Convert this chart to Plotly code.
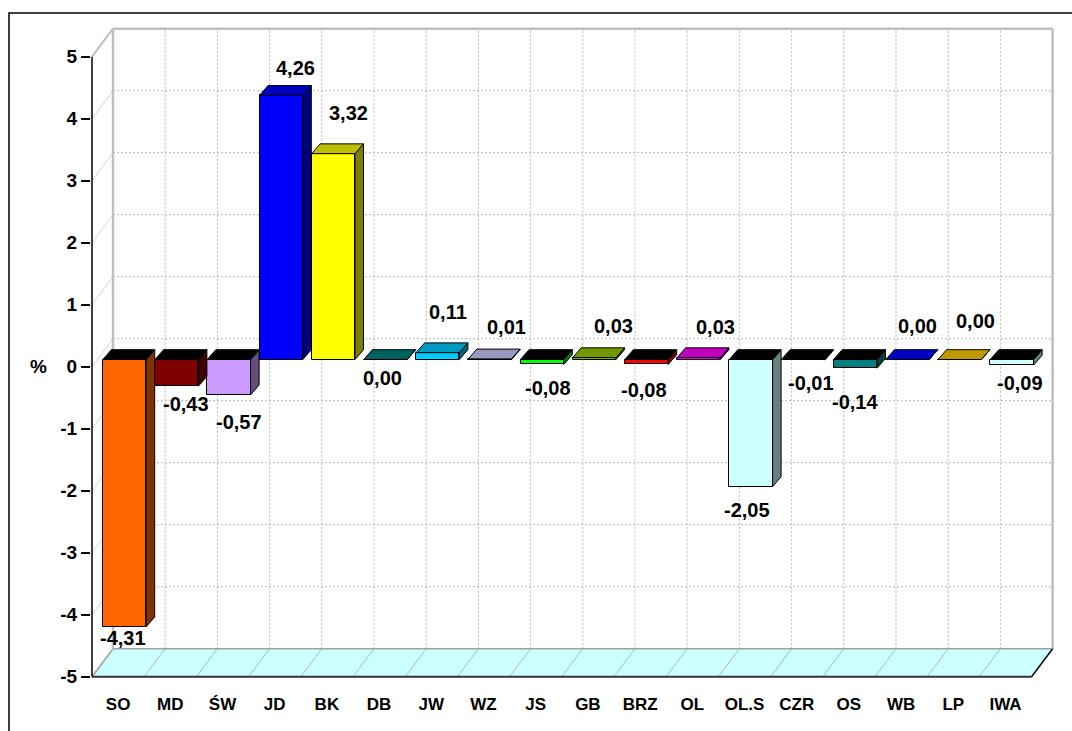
import plotly.graph_objects as go

# ---- data -------------------------------------------------------------
categories = ["SO", "MD", "ŚW", "JD", "BK", "DB", "JW", "WZ", "JS",
              "GB", "BRZ", "OL", "OL.S", "CZR", "OS", "WB", "LP", "IWA"]
values = [-4.31, -0.43, -0.57, 4.26, 3.32, 0.00, 0.11, 0.01, -0.08,
          0.03, -0.08, 0.03, -2.05, -0.01, -0.14, 0.00, 0.00, -0.09]
y_tick_values = [5, 4, 3, 2, 1, 0, -1, -2, -3, -4, -5]
y_tick_labels = ["5", "4", "3", "2", "1", "0", "-1", "-2", "-3", "-4", "-5"]

# ---- styling ----------------------------------------------------------
front_colors = ["#FF6600", "#800000", "#CC99FF", "#0000FF", "#FFFF00",
                "#008080", "#00CCFF", "#CCCCFF", "#00FF00", "#99CC00",
                "#FF0000", "#FF00FF", "#CCFFFF", "#993366", "#008080",
                "#0000FF", "#FFCC00", "#CCFFFF"]
# pixel nudges (right, down) of each value label from the bar end
label_nudges = [(-1.5, 11.3), (9.3, 17.8), (10, 27.2), (14.4, -27.4),
                (15.2, -40.7), (-3, 18.5), (9.8, -40.2), (16.8, -31.4),
                (5.9, 23.5), (18.7, -31.6), (-2.5, 25.5), (16.3, -30.9),
                (-4.3, 23.4), (7.7, 23.2), (-0.4, 33.5), (10, -33.7),
                (16, -38.7), (8, 18.2)]

FONT = "Liberation Sans, Arial, sans-serif"
W, H = 1072, 731
M_L, M_R, M_T, M_B = 91, 17, 27, 52

KX = 52.2          # px per category
KY = 62.0          # px per percent
AX_PX = 92         # front y axis, px
ZERO_PY = 366.7    # value 0 on the front plane, px

# depth of the 3-D box (walls) and of the columns, in data units
WDX, WDY = 21 / KX, 28 / KY
BAR_BASE = 7.2 / KY
BAR_CX = 32.55 / KX - 0.5
BAR_W = 43.3 / KX
BDX, BDY = 8.5 / KX, 9.8 / KY

x_range = [-0.5 - (AX_PX - M_L) / KX, -0.5 + (W - M_R - AX_PX) / KX]
y_range = [(ZERO_PY - (H - M_B)) / KY, (ZERO_PY - M_T) / KY]

n = len(categories)
x_lo, x_hi = -0.5, n - 0.5
y_lo, y_hi = min(y_tick_values), max(y_tick_values)


def shade(hex_color, f):
    h = hex_color.lstrip("#")
    r, g, b = (int(h[i:i + 2], 16) for i in (0, 2, 4))
    return "#{:02X}{:02X}{:02X}".format(int(r * f), int(g * f), int(b * f))


def seg(x0, y0, x1, y1, color, width, dash="solid", layer="below"):
    return dict(type="line", xref="x", yref="y", x0=x0, y0=y0, x1=x1, y1=y1,
                line=dict(color=color, width=width, dash=dash), layer=layer)


shapes = []
# floor
shapes.append(dict(
    type="path", xref="x", yref="y", layer="below",
    path=(f"M {x_lo},{y_lo} L {x_hi},{y_lo} L {x_hi + WDX},{y_lo + WDY} "
          f"L {x_lo + WDX},{y_lo + WDY} Z"),
    fillcolor="#CCFFFF", line=dict(width=0)))
for k in range(1, n):
    shapes.append(seg(k - 0.5, y_lo, k - 0.5 + WDX, y_lo + WDY, "#A8BEBE", 1))
# back wall grid
for v in y_tick_values:
    if y_lo < v < y_hi:
        shapes.append(seg(x_lo + WDX, v + WDY, x_hi + WDX, v + WDY,
                          "#B4B4B4", 1, "2px,2px"))
        shapes.append(seg(x_lo, v, x_lo + WDX, v + WDY, "#D4D4D4", 1))
for k in range(1, n):
    shapes.append(seg(k - 0.5 + WDX, y_lo + WDY, k - 0.5 + WDX, y_hi + WDY,
                      "#B4B4B4", 1, "2px,2px"))
# box edges
shapes.append(seg(x_lo + WDX, y_lo + WDY, x_hi + WDX, y_lo + WDY, "#A0A0A0", 1.5))
shapes.append(seg(x_lo, y_lo, x_lo + WDX, y_lo + WDY, "#A0A0A0", 1.5))
shapes.append(seg(x_lo + WDX, y_lo + WDY, x_lo + WDX, y_hi + WDY, "#C0C0C0", 2.5))
shapes.append(seg(x_hi + WDX, y_lo + WDY, x_hi + WDX, y_hi + WDY, "#C0C0C0", 2.5))
shapes.append(seg(x_lo + WDX, y_hi + WDY, x_hi + WDX, y_hi + WDY, "#C0C0C0", 2.5))
shapes.append(seg(x_lo, y_hi, x_lo + WDX, y_hi + WDY, "#C0C0C0", 2))
shapes.append(seg(x_lo, y_lo, x_hi, y_lo, "#333333", 2))
shapes.append(seg(x_hi, y_lo, x_hi + WDX, y_lo + WDY, "#000000", 1.5))
# front value axis
shapes.append(seg(x_lo, y_lo, x_lo, y_hi, "#000000", 1.5))

# outer frame (left and top edges)
pw = W - M_L - M_R
ph = H - M_T - M_B


def px_x(px):
    return (px - M_L) / pw


def px_y(py):
    return (H - M_B - py) / ph


shapes.append(dict(type="path", xref="paper", yref="paper", layer="above",
                   path=f"M {px_x(9)},{px_y(760)} L {px_x(9)},{px_y(13)} "
                        f"L {px_x(1090)},{px_y(13)}",
                   line=dict(color="#000000", width=1.5)))

fig = go.Figure()

# front faces of the columns
fig.add_trace(go.Bar(
    x=[i + BAR_CX for i in range(n)], y=values, base=BAR_BASE, width=BAR_W,
    marker=dict(color=front_colors, line=dict(color="#000000", width=1)),
    hoverinfo="skip", showlegend=False))

# side and top faces
for i, v in enumerate(values):
    xl = i + BAR_CX - BAR_W / 2
    xr = i + BAR_CX + BAR_W / 2
    b = BAR_BASE
    t = BAR_BASE + v
    fig.add_trace(go.Scatter(
        x=[xr, xr, xr + BDX, xr + BDX, xr],
        y=[b, t, t + BDY, b + BDY, b],
        mode="lines", fill="toself", fillcolor=shade(front_colors[i], 0.5),
        line=dict(color="#000000", width=1), hoverinfo="skip", showlegend=False))
    ytop = t if v >= 0 else b
    top_col = shade(front_colors[i], 0.75) if v >= 0 else "#000000"
    fig.add_trace(go.Scatter(
        x=[xl, xr, xr + BDX, xl + BDX, xl],
        y=[ytop, ytop, ytop + BDY, ytop + BDY, ytop],
        mode="lines", fill="toself", fillcolor=top_col,
        line=dict(color="#000000", width=1), hoverinfo="skip", showlegend=False))

annotations = []
for i, v in enumerate(values):
    dx, dy = label_nudges[i]
    annotations.append(dict(
        x=i + BAR_CX, y=v + BAR_BASE, xref="x", yref="y",
        text=f"{v:.2f}".replace(".", ","), showarrow=False,
        xanchor="center", yanchor="middle", xshift=dx, yshift=-dy,
        font=dict(family=FONT, size=20, color="#000000", weight="bold")))
annotations.append(dict(
    x=px_x(38), y=0, xref="paper", yref="y", text="%", showarrow=False,
    xanchor="center", yanchor="middle",
    font=dict(family=FONT, size=19, color="#000000", weight="bold")))

fig.update_layout(
    width=W, height=H, autosize=False,
    margin=dict(l=M_L, r=M_R, t=M_T, b=M_B, pad=0),
    paper_bgcolor="#FFFFFF", plot_bgcolor="#FFFFFF",
    shapes=shapes, annotations=annotations, bargap=0,
    xaxis=dict(range=x_range, tickmode="array", tickvals=list(range(n)),
               ticktext=categories, showgrid=False, zeroline=False,
               showline=False, ticks="", ticklabelstandoff=13,
               tickfont=dict(family=FONT, size=17, color="#000000", weight="bold"),
               automargin=False, fixedrange=True),
    yaxis=dict(range=y_range, tickmode="array", tickvals=y_tick_values,
               ticktext=y_tick_labels, showgrid=False, zeroline=False,
               showline=False, ticks="outside", ticklen=9, tickwidth=1.5,
               tickcolor="#000000",
               tickfont=dict(family=FONT, size=19, color="#000000", weight="bold"),
               automargin=False, fixedrange=True),
)

fig.write_html("out.html")
